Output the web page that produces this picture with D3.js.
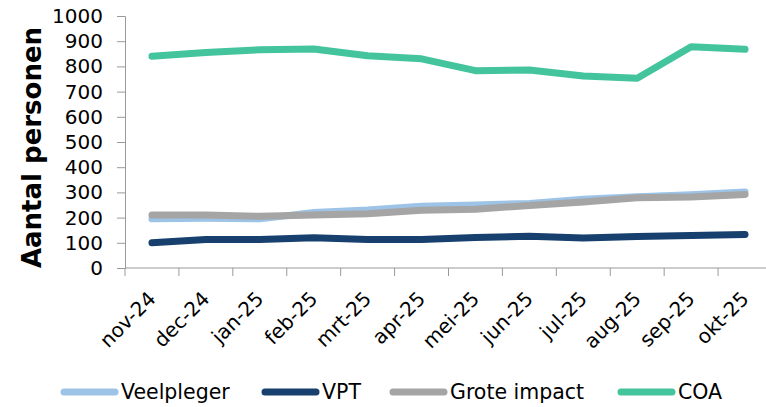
<!DOCTYPE html>
<html>
<head>
<meta charset="utf-8">
<script src="https://cdn.jsdelivr.net/npm/d3@7"></script>
<style>
  html, body { margin: 0; padding: 0; background: #fff; }
  svg { display: block; font-family: Verdana, "DejaVu Sans", sans-serif; }
</style>
</head>
<body>
<svg id="chart" width="766" height="407"></svg>
<script>
const months = ["nov-24","dec-24","jan-25","feb-25","mrt-25","apr-25","mei-25","jun-25","jul-25","aug-25","sep-25","okt-25"];
const veelpleger = [195, 197, 195, 220, 230, 245, 250, 256, 273, 283, 291, 302];
const vpt        = [100, 113, 113, 120, 113, 113, 121, 126, 119, 125, 129, 133];
const groteImpact= [210, 210, 205, 210, 215, 229, 233, 248, 262, 279, 282, 292];
const coa        = [840, 855, 866, 869, 842, 830, 783, 786, 762, 753, 878, 868];
const yTicks = [0,100,200,300,400,500,600,700,800,900,1000];

const series = [
  {name: "Veelpleger", values: veelpleger, color: "#9DC3E6"},
  {name: "VPT", values: vpt, color: "#17406E"},
  {name: "Grote impact", values: groteImpact, color: "#A5A5A5"},
  {name: "COA", values: coa, color: "#44C49C"}
];

const svg = d3.select("#chart");
const mLeft = 125, mRight = 772, mTop = 16, mBottom = 268;

const x = d3.scaleBand().domain(months).range([mLeft, mRight]).padding(0);
const y = d3.scaleLinear().domain([0, 1000]).range([mBottom, mTop]);
const axisColor = "#9a9a9a";

// Y axis
const yAxis = d3.axisLeft(y).tickValues(yTicks).tickFormat(d3.format("d")).tickSize(8).tickPadding(14);
const gy = svg.append("g").attr("transform", `translate(${mLeft},0)`).call(yAxis);
gy.select(".domain").attr("stroke", axisColor);
gy.selectAll(".tick line").attr("stroke", axisColor);
gy.selectAll(".tick text").attr("fill", "#000").style("font-size", "20px")
  .style("font-family", 'Verdana, "DejaVu Sans", sans-serif');

// X axis (ticks between categories)
const gx = svg.append("g");
gx.append("line").attr("x1", mLeft).attr("x2", mRight).attr("y1", mBottom).attr("y2", mBottom)
  .attr("stroke", axisColor);
const edges = months.map(m => x(m)).concat([x(months[months.length-1]) + x.bandwidth()]);
gx.selectAll("line.t").data(edges).enter().append("line").attr("class","t")
  .attr("x1", d => d).attr("x2", d => d).attr("y1", mBottom).attr("y2", mBottom + 8)
  .attr("stroke", axisColor);
gx.selectAll("text").data(months).enter().append("text")
  .attr("transform", d => `translate(${x(d) + x.bandwidth()/2},${mBottom + 27}) rotate(-45)`)
  .attr("text-anchor", "end")
  .attr("dy", "0.35em")
  .style("font-size", "20px")
  .attr("fill", "#000")
  .text(d => d);

// Y label
svg.append("text")
  .attr("transform", `translate(41,${(27+268)/2}) rotate(-90)`)
  .attr("text-anchor", "middle")
  .style("font-size", "26px").style("font-weight", "bold")
  .attr("fill", "#000")
  .text("Aantal personen");

// Lines
const line = d3.line()
  .x((d, i) => x(months[i]) + x.bandwidth()/2)
  .y(d => y(d));
svg.append("g").selectAll("path").data(series).enter().append("path")
  .attr("d", d => line(d.values))
  .attr("fill", "none")
  .attr("stroke", d => d.color)
  .attr("stroke-width", 7)
  .attr("stroke-linecap", "round")
  .attr("stroke-linejoin", "round");

// Legend
const legendPos = [61, 262, 390, 618];
const lg = svg.append("g");
series.forEach((s, i) => {
  const g = lg.append("g").attr("transform", `translate(${legendPos[i]},392)`);
  g.append("line").attr("x1", 3).attr("x2", 54).attr("y1", 0).attr("y2", 0)
    .attr("stroke", s.color).attr("stroke-width", 7).attr("stroke-linecap", "round");
  g.append("text").attr("x", 60).attr("dy", "0.35em")
    .style("font-size", "20.5px").attr("fill", "#000").text(s.name);
});
</script>
</body>
</html>
